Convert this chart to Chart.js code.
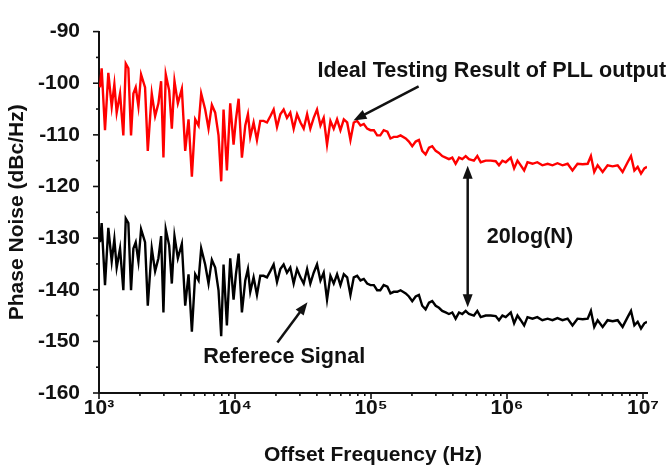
<!DOCTYPE html>
<html>
<head>
<meta charset="utf-8">
<script src="https://cdn.jsdelivr.net/npm/chart.js@4.4.0/dist/chart.umd.min.js"></script>
<style>
  body { margin: 0; background: #fff; }
  canvas { display: block; }
</style>
</head>
<body>
<canvas id="myChart" width="668" height="470"></canvas>
<script>
// offset frequency (Hz)
var freqHz = [
  1017,1046,1107,1171,1240,1297,1349,1428,1510,1573,
  1644,1720,1790,1862,1949,2039,2181,2284,2443,2586,
  2735,2862,2977,3097,3280,3431,3589,3800,4066,4303,
  4553,4818,5098,5395,5641,6036,6387,6758,7151,7567,
  7916,8238,8717,9224,9760,10160,10630,11240,11900,12450,
  12950,13700,14500,15340,16230,17180,18180,19240,20360,21540,
  22790,24100,25500,27000,28600,30300,32000,33900,35800,37900,
  40100,42500,44900,47500,50300,53200,56300,59600,63100,66800,
  70600,74700,79100,83700,88500,93700,99100,105000,111000,117000,
  124000,132000,139000,147000,
  156000,165000,180000,190000,201000,213000,225000,238000,252000,267000,
  282000,299000,316000,334000,354000,374000,396000,419000,444000,469000,
  497000,525000,571000,605000,641000,697000,759000,826000,873000,925000,
  979000,1066000,1128000,1194000,1262000,1337000,1415000,1540000,1670000,1820000,
  1990000,2160000,2350000,2560000,2790000,3030000,3300000,3600000,3920000,4140000,
  4380000,4640000,5050000,5490000,5980000,6510000,7080000,7710000,8160000,8640000,
  9140000,9670000,10230000,10700000
];

// Ideal Testing Result of PLL output (dBc/Hz)
var pllOutput = [
  -100.8,-97.1,-109.1,-98.0,-104.5,-100.2,-105.7,-102.0,-110.1,-96.2,
  -97.1,-110.1,-102.0,-100.8,-104.5,-98.3,-100.8,-113.1,-102.0,-106.4,
  -103.9,-99.6,-114.4,-98.3,-101.4,-108.8,-99.6,-103.9,-101.1,-113.1,
  -107.0,-118.1,-107.0,-108.2,-102.0,-105.1,-108.8,-104.2,-105.7,-110.1,
  -119.0,-105.1,-116.9,-103.9,-111.9,-107.0,-103.0,-114.4,-108.2,-106.0,
  -110.4,-107.6,-111.0,-107.3,-107.3,-107.6,-106.4,-105.1,-108.5,-106.0,
  -105.1,-106.7,-105.7,-108.8,-106.0,-107.6,-108.8,-106.0,-108.8,-106.7,
  -105.1,-108.2,-106.7,-111.9,-107.3,-108.8,-107.0,-109.1,-107.0,-107.6,
  -111.0,-107.6,-107.3,-108.2,-107.9,-108.8,-109.1,-109.1,-110.1,-110.1,
  -109.1,-109.4,-110.7,-110.4,
  -110.4,-110.1,-110.7,-111.3,-112.2,-111.3,-111.0,-113.1,-113.8,-112.5,
  -112.2,-113.1,-113.5,-114.1,-114.4,-114.7,-114.4,-115.6,-114.4,-114.7,
  -114.1,-114.7,-115.0,-114.1,-115.3,-115.0,-115.0,-115.1,-115.9,-115.0,
  -115.3,-114.4,-116.5,-115.0,-115.9,-116.9,-115.3,-115.6,-115.3,-115.9,
  -115.6,-115.9,-115.5,-115.9,-115.6,-116.9,-115.6,-115.7,-115.6,-114.1,
  -117.2,-115.9,-117.2,-115.9,-116.1,-115.9,-117.2,-115.3,-114.1,-116.9,
  -116.2,-117.5,-116.5,-116.2
];

// Referece Signal (dBc/Hz)
var refSignal = [
  -130.8,-127.1,-139.1,-128.0,-134.5,-130.2,-135.7,-132.0,-140.1,-126.2,
  -127.1,-140.1,-132.0,-130.8,-134.5,-128.3,-130.8,-143.1,-132.0,-136.4,
  -133.9,-129.6,-144.4,-128.3,-131.4,-138.8,-129.6,-133.9,-131.1,-143.1,
  -137.0,-148.1,-137.0,-138.2,-132.0,-135.1,-138.8,-134.2,-135.7,-140.1,
  -149.0,-135.1,-146.9,-133.9,-141.9,-137.0,-133.0,-144.4,-138.2,-136.0,
  -140.4,-137.6,-141.0,-137.3,-137.3,-137.6,-136.4,-135.1,-138.5,-136.0,
  -135.1,-136.7,-135.7,-138.8,-136.0,-137.6,-138.8,-136.0,-138.8,-136.7,
  -135.1,-138.2,-136.7,-141.9,-137.3,-138.8,-137.0,-139.1,-137.0,-137.6,
  -141.0,-137.6,-137.3,-138.2,-137.9,-138.8,-139.1,-139.1,-140.1,-140.1,
  -139.1,-139.4,-140.7,-140.4,
  -140.4,-140.1,-140.7,-141.3,-142.2,-141.3,-141.0,-143.1,-143.8,-142.5,
  -142.2,-143.1,-143.5,-144.1,-144.4,-144.7,-144.4,-145.6,-144.4,-144.7,
  -144.1,-144.7,-145.0,-144.1,-145.3,-145.0,-145.0,-145.1,-145.9,-145.0,
  -145.3,-144.4,-146.5,-145.0,-145.9,-146.9,-145.3,-145.6,-145.3,-145.9,
  -145.6,-145.9,-145.5,-145.9,-145.6,-146.9,-145.6,-145.7,-145.6,-144.1,
  -147.2,-145.9,-147.2,-145.9,-146.1,-145.9,-147.2,-145.3,-144.1,-146.9,
  -146.2,-147.5,-146.5,-146.2
];

var xTickValues = [1e3, 1e4, 1e5, 1e6, 1e7];
var xTickLabels = ["10³", "10⁴", "10⁵", "10⁶", "10⁷"];

// annotation texts, anchored (left, middle) in data units
var noteTexts = ["Ideal Testing Result of PLL output", "20log(N)", "Referece Signal"];
var noteAt = [[40400, -97.6], [710000, -129.8], [5840, -153.1]];
// single arrows: [fromX, fromY, toX, toY]
var arrows = [[224000, -100.6, 74300, -107.2], [20500, -150.2, 34100, -142.4]];
// double arrow between the two curves: [x, top, bottom]
var gapArrow = [514000, -116.0, -143.4];

var FONT = "'Liberation Sans', Arial, sans-serif";

function pts(ys) {
  return freqHz.map(function (f, i) { return { x: f, y: ys[i] }; });
}

function arrowHead(ctx, x0, y0, x1, y1) {
  var a = Math.atan2(y1 - y0, x1 - x0);
  var L = 13, W = 5;
  ctx.beginPath();
  ctx.moveTo(x1, y1);
  ctx.lineTo(x1 - L * Math.cos(a) + W * Math.sin(a), y1 - L * Math.sin(a) - W * Math.cos(a));
  ctx.lineTo(x1 - L * Math.cos(a) - W * Math.sin(a), y1 - L * Math.sin(a) + W * Math.cos(a));
  ctx.closePath();
  ctx.fill();
}

var extras = {
  id: "extras",
  afterDraw: function (chart) {
    var ctx = chart.ctx, xs = chart.scales.x, ys = chart.scales.y, ca = chart.chartArea;
    ctx.save();
    ctx.strokeStyle = "#111";
    ctx.fillStyle = "#111";
    ctx.lineWidth = 1.6;
    // y ticks
    for (var v = -160; v <= -90; v += 5) {
      var py = ys.getPixelForValue(v);
      var len = (v % 10 === 0) ? 6 : 3;
      ctx.beginPath();
      ctx.moveTo(ca.left - len, py);
      ctx.lineTo(ca.left, py);
      ctx.stroke();
    }
    // x ticks
    for (var d = 3; d <= 7; d++) {
      for (var m = 1; m <= 9; m++) {
        var val = m * Math.pow(10, d);
        if (val > xs.max) break;
        var px = xs.getPixelForValue(val);
        var l2 = (m === 1) ? 6 : 3;
        ctx.beginPath();
        ctx.moveTo(px, ca.bottom);
        ctx.lineTo(px, ca.bottom + l2);
        ctx.stroke();
      }
    }
    // arrows
    ctx.lineWidth = 2.5;
    arrows.forEach(function (a) {
      var x0 = xs.getPixelForValue(a[0]), y0 = ys.getPixelForValue(a[1]);
      var x1 = xs.getPixelForValue(a[2]), y1 = ys.getPixelForValue(a[3]);
      var ang = Math.atan2(y1 - y0, x1 - x0);
      ctx.beginPath();
      ctx.moveTo(x0, y0);
      ctx.lineTo(x1 - 8 * Math.cos(ang), y1 - 8 * Math.sin(ang));
      ctx.stroke();
      arrowHead(ctx, x0, y0, x1, y1);
    });
    var gx = xs.getPixelForValue(gapArrow[0]);
    var gy0 = ys.getPixelForValue(gapArrow[1]), gy1 = ys.getPixelForValue(gapArrow[2]);
    ctx.beginPath();
    ctx.moveTo(gx, gy0 + 8);
    ctx.lineTo(gx, gy1 - 8);
    ctx.stroke();
    arrowHead(ctx, gx, gy1, gx, gy0);
    arrowHead(ctx, gx, gy0, gx, gy1);
    // texts
    ctx.font = "bold 21.6px " + FONT;
    ctx.textAlign = "left";
    ctx.textBaseline = "middle";
    noteTexts.forEach(function (t, i) {
      ctx.fillText(t, xs.getPixelForValue(noteAt[i][0]), ys.getPixelForValue(noteAt[i][1]));
    });
    ctx.restore();
  }
};

var ctx = document.getElementById("myChart").getContext("2d");
var myChart = new Chart(ctx, {
  type: "line",
  data: {
    datasets: [
      {
        label: "Ideal Testing Result of PLL output",
        data: pts(pllOutput),
        borderColor: "#ff0000",
        borderWidth: 2.4,
        pointRadius: 0,
        tension: 0
      },
      {
        label: "Referece Signal",
        data: pts(refSignal),
        borderColor: "#000000",
        borderWidth: 2.4,
        pointRadius: 0,
        tension: 0
      }
    ]
  },
  options: {
    responsive: false,
    devicePixelRatio: 1,
    animation: false,
    layout: { padding: { left: 0, top: 15, right: 21, bottom: 0 } },
    plugins: { legend: { display: false }, tooltip: { enabled: false } },
    scales: {
      x: {
        type: "logarithmic",
        min: 1000,
        max: 10700000,
        afterFit: function (s) { s.height = 77; },
        afterBuildTicks: function (s) {
          s.ticks = xTickValues.map(function (v) { return { value: v }; });
        },
        grid: { display: false, drawTicks: false },
        border: { display: true, color: "#111", width: 2 },
        ticks: {
          autoSkip: false,
          maxRotation: 0,
          padding: 3,
          color: "#111",
          font: { family: FONT, size: 21, weight: "bold" },
          callback: function (v) {
            var i = xTickValues.indexOf(v);
            return i >= 0 ? xTickLabels[i] : "";
          }
        },
        title: {
          display: true,
          text: "Offset Frequency (Hz)",
          color: "#111",
          font: { family: FONT, size: 21, weight: "bold" },
          padding: { top: 2, bottom: 2 }
        }
      },
      y: {
        min: -160,
        max: -90,
        afterFit: function (s) { s.width = 99; },
        grid: { display: false, drawTicks: false },
        border: { display: true, color: "#111", width: 2 },
        ticks: {
          stepSize: 10,
          padding: 19,
          color: "#111",
          font: { family: FONT, size: 21, weight: "bold" }
        },
        title: {
          display: true,
          text: "Phase Noise (dBc/Hz)",
          color: "#111",
          font: { family: FONT, size: 21, weight: "bold" },
          padding: { top: 5, bottom: 5 }
        }
      }
    }
  },
  plugins: [extras]
});
</script>
</body>
</html>
